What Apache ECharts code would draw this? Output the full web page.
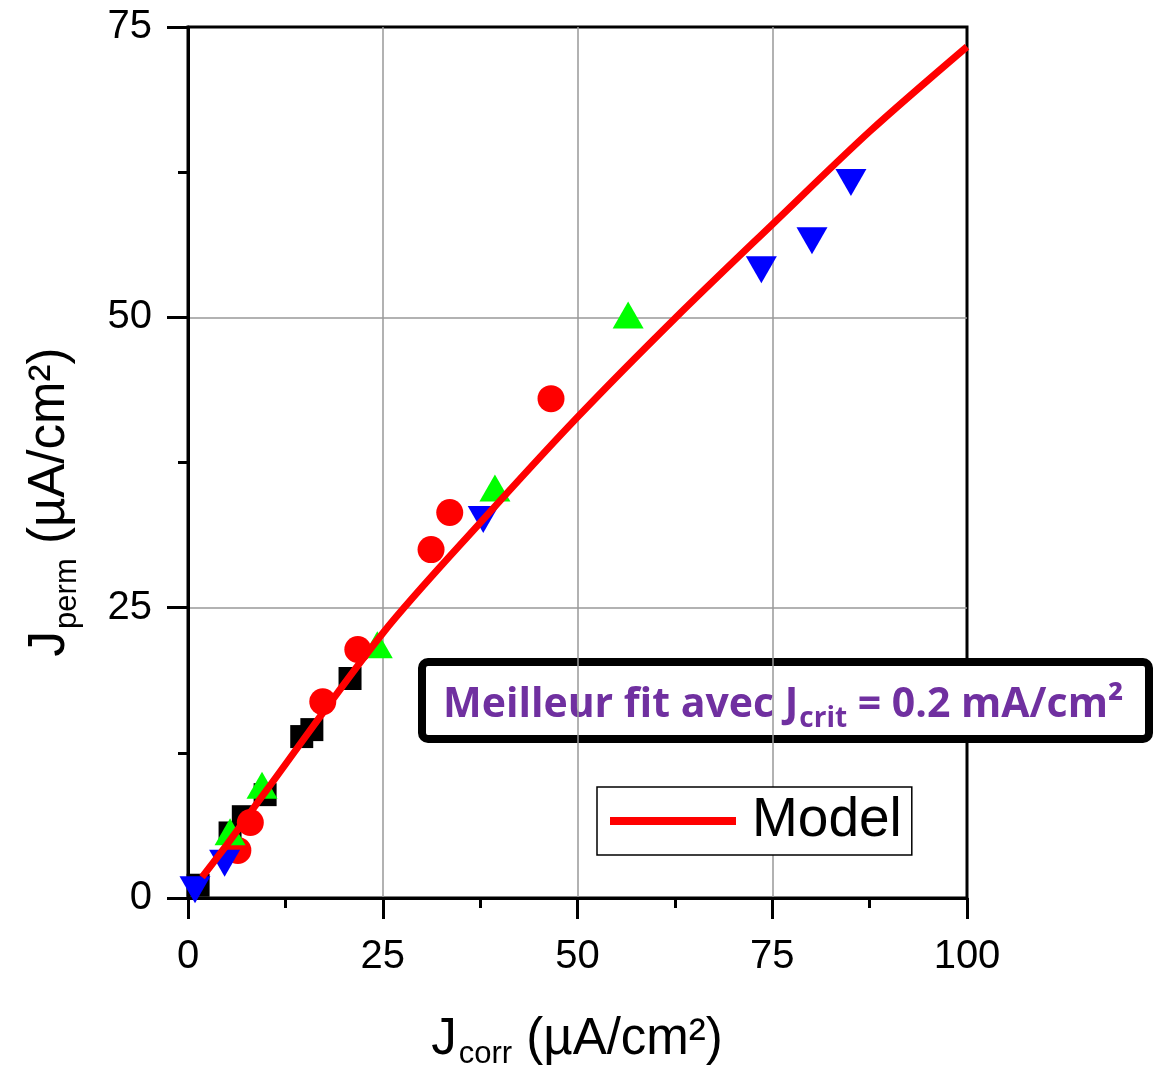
<!DOCTYPE html>
<html>
<head>
<meta charset="utf-8">
<script src="https://cdn.jsdelivr.net/npm/echarts@6/dist/echarts.min.js"></script>
<style>
html,body{margin:0;padding:0;background:#fff;}
#chart{width:1158px;height:1070px;}
</style>
</head>
<body>
<div id="chart"></div>
<script>
// ---- data ----
const squarePoints = [[1.3,1.1],[5.4,5.6],[7.1,7.0],[9.9,8.9],[14.6,13.9],[15.9,14.5],[20.8,18.9]];
const circlePoints = [[6.4,4.1],[8.0,6.5],[17.3,16.9],[21.8,21.4],[31.2,30.0],[33.6,33.2],[46.6,43.0]];
const upTrianglePoints = [[5.4,5.7],[9.5,9.7],[24.3,21.8],[39.4,35.3],[56.5,50.2]];
const downTrianglePoints = [[0.9,0.7],[4.7,3.0],[37.9,32.6],[73.6,54.1],[80.1,56.6],[85.1,61.6]];
const modelX = [1.8, 5, 10, 25, 37.5, 50, 62.5, 75, 87.5, 100];
const modelY = [1.8, 4.6, 9.2, 22.8, 32.3, 41.4, 49.9, 58.0, 66.0, 73.3];
const xTicks = [0, 25, 50, 75, 100];
const yTicks = [0, 25, 50, 75];
const legendName = 'Model';
const xTitle = ['J', 'corr', ' (µA/cm²)'];
const yTitle = ['J', 'perm', ' (µA/cm²)'];
const noteMain = 'Meilleur fit avec J';
const noteSub = 'crit';
const noteTail = ' = 0.2 mA/cm²';

const chart = echarts.init(document.getElementById('chart'), null, {renderer: 'canvas'});
const FONT = '"Liberation Sans", Arial, sans-serif';
const NOTE_FONT = '"Open Sans", sans-serif';

function titleRich(subPad) {
  return {
    m: {fontFamily: FONT, fontSize: 51, fill: '#000', verticalAlign: 'top', lineHeight: 60},
    s: {fontFamily: FONT, fontSize: 31, fill: '#000', verticalAlign: 'top', lineHeight: 60, padding: [subPad, 0, 0, 2]}
  };
}

const option = {
  backgroundColor: '#ffffff',
  animation: false,
  grid: {left: 188, right: 191, top: 27, bottom: 172, show: true, borderColor: '#000', borderWidth: 3, backgroundColor: 'transparent'},
  xAxis: {
    type: 'value', min: xTicks[0], max: xTicks[xTicks.length-1], interval: 25,
    axisLine: {show: true, onZero: false, lineStyle: {color: '#000', width: 3}},
    axisTick: {show: true, inside: false, length: 21, lineStyle: {color: '#000', width: 3}},
    minorTick: {show: true, splitNumber: 2, length: 10, lineStyle: {color: '#000', width: 3}},
    splitLine: {show: true, showMinLine: false, showMaxLine: false, lineStyle: {color: '#999', width: 1.5}},
    axisLabel: {fontFamily: FONT, fontSize: 40, color: '#000', margin: 39}
  },
  yAxis: {
    type: 'value', min: yTicks[0], max: yTicks[yTicks.length-1], interval: 25,
    axisLine: {show: true, onZero: false, lineStyle: {color: '#000', width: 3}},
    axisTick: {show: true, inside: false, length: 21, lineStyle: {color: '#000', width: 3}},
    minorTick: {show: true, splitNumber: 2, length: 10, lineStyle: {color: '#000', width: 3}},
    splitLine: {show: true, showMinLine: false, showMaxLine: false, lineStyle: {color: '#999', width: 1.5}},
    axisLabel: {fontFamily: FONT, fontSize: 40, color: '#000', margin: 36}
  },
  legend: {
    left: 597, top: 787,
    data: [{name: legendName, icon: 'rect'}],
    orient: 'horizontal',
    borderColor: '#000', borderWidth: 1.5, borderRadius: 0,
    padding: [6, 10, 6, 13],
    itemWidth: 126, itemHeight: 8, itemGap: 10,
    itemStyle: {color: '#ff0000'},
    textStyle: {fontFamily: FONT, fontSize: 55, lineHeight: 56, color: '#000', padding: [0, 0, 0, 11]},
    backgroundColor: '#fff'
  },
  series: [
    {type: 'scatter', data: squarePoints, symbol: 'rect', symbolSize: 23, itemStyle: {color: '#000', opacity: 1}, z: 2},
    {type: 'scatter', data: circlePoints, symbol: 'circle', symbolSize: 27, itemStyle: {color: '#ff0000', opacity: 1}, z: 3},
    {type: 'scatter', data: upTrianglePoints, symbol: 'triangle', symbolSize: [31, 27], itemStyle: {color: '#00ff00', opacity: 1}, z: 4},
    {type: 'scatter', data: downTrianglePoints, symbol: 'triangle', symbolRotate: 180, symbolSize: [31, 27], itemStyle: {color: '#0000ff', opacity: 1}, z: 5},
    {type: 'line', name: legendName, data: modelX.map((x, i) => [x, modelY[i]]), smooth: 0.3, symbol: 'none',
     lineStyle: {color: '#ff0000', width: 7}, itemStyle: {color: '#ff0000'}, z: 6}
  ],
  graphic: [
    // x axis title
    {type: 'text', x: 577, y: 1014, z: 50, style: {
      align: 'center', verticalAlign: 'top', rich: titleRich(25),
      text: '{m|' + xTitle[0] + '}{s|' + xTitle[1] + '}{m|' + xTitle[2] + '}'
    }},
    // y axis title (rotated)
    {type: 'text', x: 24, y: 502, rotation: Math.PI / 2, z: 50, style: {
      align: 'center', verticalAlign: 'top', rich: titleRich(28),
      text: '{m|' + yTitle[0] + '}{s|' + yTitle[1] + '}{m|' + yTitle[2] + '}'
    }},
    // annotation box
    {
      type: 'group', x: 418, y: 658, z: 100,
      children: [
        {type: 'rect', shape: {x: 4, y: 4, width: 727, height: 77, r: 6}, style: {fill: '#fff', stroke: '#000', lineWidth: 8}},
        {type: 'text', x: 25, y: 27, style: {
          align: 'left', verticalAlign: 'top',
          rich: {
            m: {fontFamily: NOTE_FONT, fontWeight: 'bold', fontSize: 41, fill: '#7030a0', verticalAlign: 'top', lineHeight: 50},
            s: {fontFamily: NOTE_FONT, fontWeight: 'bold', fontSize: 28, fill: '#7030a0', verticalAlign: 'top', lineHeight: 50, padding: [20, 0, 0, 1]}
          },
          text: '{m|' + noteMain + '}{s|' + noteSub + '}{m|' + noteTail + '}'
        }}
      ]
    }
  ]
};
chart.setOption(option);
</script>
</body>
</html>
